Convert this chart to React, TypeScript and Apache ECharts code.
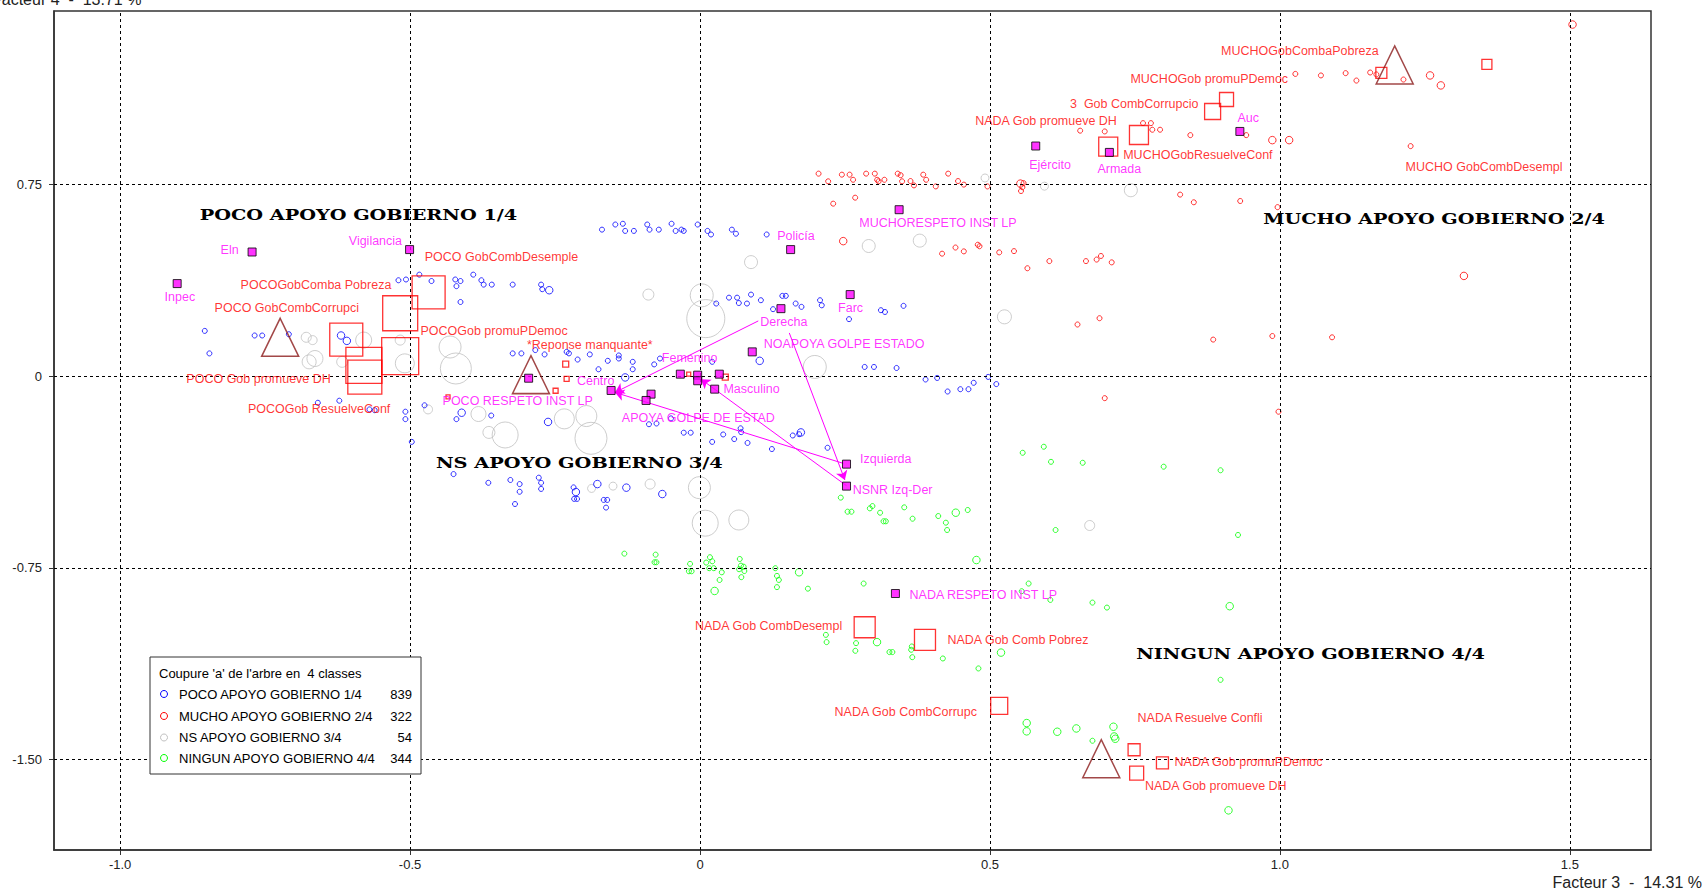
import React, { useEffect, useRef } from "react";
import * as echarts from "echarts";

// ---------- DATA ----------
// Individuals of each class: [Facteur 3, Facteur 4, poids]
const pocoPoints = [
  [-0.169,0.573,1],[-0.146,0.593,1],[-0.133,0.596,1],[-0.129,0.568,1],[-0.114,0.568,1],[-0.091,0.593,1],[-0.087,0.573,1],[-0.071,0.573,1],[-0.049,0.596,1],[-0.042,0.568,1],[-0.032,0.573,1],[-0.028,0.568,1],[-0.004,0.593,1],[0.013,0.568,1],[0.019,0.554,1],[0.055,0.573,1],[0.062,0.557,1],[0.115,0.554,1],
  [-0.520,0.375,1],[-0.507,0.378,1],[-0.484,0.397,1],[-0.463,0.372,1],[-0.422,0.378,1],[-0.413,0.372,1],[-0.420,0.352,1],[-0.391,0.397,1],[-0.377,0.375,1],[-0.373,0.358,1],[-0.359,0.358,1],[-0.323,0.358,1],[-0.274,0.358,1],[-0.272,0.340,1],[-0.260,0.336,2],[-0.413,0.290,1],
  [0.028,0.284,1],[0.050,0.307,1],[0.064,0.307,1],[0.067,0.286,1],[0.081,0.284,1],[0.088,0.319,1],[0.105,0.297,1],[0.126,0.262,1],[0.142,0.314,1],[0.148,0.314,1],[0.165,0.284,1],[0.175,0.271,1],[0.207,0.297,1],[0.210,0.277,1],[0.257,0.223,1],[0.312,0.258,1],[0.319,0.251,1],[0.351,0.275,1],
  [-0.854,0.177,1],[-0.846,0.089,1],[-0.768,0.159,1],[-0.755,0.159,1],[-0.709,0.164,1],[-0.619,0.159,2],[-0.609,0.138,2],
  [-0.323,0.089,1],[-0.308,0.089,1],[-0.284,0.102,1],[-0.268,0.085,1],[-0.230,0.095,1],[-0.226,0.089,1],[-0.211,0.065,1],[-0.190,0.085,1],[-0.175,0.027,1],[-0.159,0.060,1],[-0.140,0.081,1],[-0.140,0.069,1],[-0.129,-0.005,2],[-0.116,0.056,1],[-0.116,0.027,1],[-0.079,0.046,1],[-0.069,0.069,1],[0.021,0.056,1],[0.103,0.060,2],[0.284,0.036,1],[0.300,0.036,1],[0.339,0.032,1],
  [0.389,-0.013,1],[0.409,-0.007,1],[0.427,-0.060,1],[0.449,-0.051,1],[0.463,-0.051,1],[0.472,-0.026,1],[0.497,-0.003,1],[0.511,-0.031,1],
  [-0.659,-0.104,1],[-0.622,-0.096,1],[-0.570,-0.130,1],[-0.561,-0.133,1],[-0.508,-0.139,1],[-0.508,-0.168,1],[-0.497,-0.257,1],[-0.475,-0.114,1],[-0.411,-0.143,2],[-0.420,-0.168,1],[-0.360,-0.154,1],[-0.262,-0.179,2],[-0.088,-0.188,1],[-0.075,-0.185,1],[-0.050,-0.165,1],[-0.028,-0.221,1],[-0.016,-0.221,1],[0.021,-0.257,1],[0.040,-0.228,1],[0.059,-0.246,1],[0.070,-0.204,1],[0.071,-0.219,1],[0.082,-0.261,1],[0.124,-0.285,1],[0.160,-0.232,1],[0.171,-0.227,1],[0.174,-0.220,2],[0.220,-0.280,1],
  [-0.425,-0.383,1],[-0.365,-0.417,1],[-0.327,-0.406,1],[-0.311,-0.422,1],[-0.311,-0.452,1],[-0.319,-0.500,1],[-0.278,-0.397,1],[-0.274,-0.417,1],[-0.274,-0.441,1],[-0.218,-0.435,1],[-0.214,-0.453,2],[-0.217,-0.480,1],[-0.212,-0.480,1],[-0.177,-0.422,2],[-0.166,-0.484,1],[-0.160,-0.484,1],[-0.162,-0.514,1],[-0.127,-0.436,2],[-0.065,-0.461,2],
];

const muchoPoints = [
  [0.2045,0.792,1],[0.221,0.762,1],[0.2447,0.788,1],[0.258,0.788,1],[0.264,0.768,1],[0.2865,0.792,1],[0.3015,0.792,1],[0.3055,0.768,1],[0.308,0.762,1],[0.318,0.768,1],[0.341,0.792,1],[0.346,0.786,1],[0.3485,0.762,1],[0.363,0.763,1],[0.369,0.746,1],[0.385,0.788,1],[0.390,0.768,1],[0.4066,0.742,1],[0.428,0.792,1],[0.445,0.763,1],[0.455,0.749,1],[0.4957,0.742,1],[0.5525,0.753,2],[0.558,0.755,1],[0.556,0.739,1],[0.5536,0.724,1],
  [0.2297,0.6746,1],[0.2676,0.698,1],[0.828,0.710,1],[0.8516,0.680,1],[0.9316,0.685,1],[0.996,0.661,1],
  [0.247,0.528,2],[0.4175,0.479,1],[0.4406,0.503,1],[0.455,0.488,1],[0.479,0.514,1],[0.482,0.508,1],[0.516,0.484,1],[0.5415,0.489,1],[0.5646,0.422,1],[0.6025,0.450,1],[0.6656,0.450,1],[0.684,0.456,1],[0.6914,0.470,1],[0.710,0.445,1],[1.3174,0.392,2],
  [0.651,0.202,1],[0.689,0.2266,1],[0.885,0.143,1],[0.987,0.157,1],[1.090,0.152,1],[0.698,-0.086,1],[0.9976,-0.139,1],
  [1.5047,1.375,2],[1.0267,1.182,1],[1.0708,1.176,1],[1.1134,1.185,1],[1.132,1.156,1],[1.1557,1.1875,1],[1.1664,1.180,1],[1.2131,1.160,1],[1.259,1.176,2],[1.2776,1.137,2],
  [0.6556,0.960,1],[0.698,0.957,1],[0.764,0.9895,1],[0.7776,0.9895,1],[0.780,0.9637,1],[0.7934,0.9637,1],[0.8456,0.9426,1],[0.942,0.9426,1],[0.987,0.923,2],[1.016,0.923,2],[1.2255,0.8996,1],
];

const nsPoints = [
  [-0.679,0.152,10],[-0.668,0.141,9],[-0.664,0.069,16],[-0.674,0.056,14],[-0.617,0.056,11],[-0.580,0.141,16],[-0.517,0.141,10],[-0.509,0.050,19],[-0.431,0.114,22],[-0.421,0.030,31],[-0.469,-0.130,9],[-0.382,-0.148,15],[-0.364,-0.220,12],[-0.336,-0.230,26],[-0.234,-0.167,20],[-0.196,-0.156,21],[-0.188,-0.243,32],[-0.187,-0.439,8],[-0.150,-0.430,8],[-0.086,-0.422,10],[-0.001,-0.436,22],[0.009,-0.575,26],[0.067,-0.5625,20],[-0.089,0.319,11],[0.003,0.316,23],[0.010,0.225,38],[0.088,0.446,13],[0.198,0.036,23],[0.291,0.509,13],[0.379,0.530,13],[0.525,0.232,14],[0.4915,0.775,8],[0.594,0.743,8],[0.743,0.727,13],[0.672,-0.584,10],
];

const ningunPoints = [
  [0.2428,-0.475,1],[0.2545,-0.530,1],[0.2612,-0.530,1],[0.2929,-0.517,1],[0.2974,-0.508,1],[0.3106,-0.534,1],[0.3165,-0.5676,1],[0.3205,-0.5676,1],[0.3522,-0.513,1],[0.3666,-0.5574,1],[0.4109,-0.547,1],[0.424,-0.573,1],[0.4261,-0.6016,1],[0.4411,-0.534,2],[0.4617,-0.5234,1],[0.4767,-0.719,2],
  [-0.1304,-0.694,1],[-0.0765,-0.698,1],[-0.0784,-0.7277,1],[-0.0751,-0.7277,1],[-0.0171,-0.734,1],[-0.0191,-0.763,1],[-0.0145,-0.763,1],[0.0107,-0.729,1],[0.0172,-0.708,1],[0.0212,-0.724,1],[0.0159,-0.751,1],[0.0238,-0.751,1],[0.0376,-0.767,1],[0.0338,-0.797,1],[0.0252,-0.840,2],[0.0686,-0.715,1],[0.0706,-0.741,1],[0.0674,-0.755,1],[0.0765,-0.762,1],[0.0713,-0.786,1],[0.0753,-0.745,1],[0.1299,-0.751,1],[0.1327,-0.781,1],[0.136,-0.797,1],[0.1327,-0.825,1],[0.1709,-0.767,2],[0.1861,-0.831,1],[0.2822,-0.811,1],
  [0.2171,-1.0117,1],[0.2183,-1.040,1],[0.2691,-1.044,1],[0.2679,-1.074,1],[0.3053,-1.040,2],[0.3653,-1.057,1],[0.3642,-1.070,1],[0.3661,-1.099,1],[0.3267,-1.079,1],[0.3318,-1.079,1],[0.4188,-1.104,1],[0.4802,-1.143,1],[0.5191,-1.081,2],[0.8977,-1.1875,1],
  [0.5667,-0.811,1],[0.5548,-0.841,1],[0.6042,-0.875,1],[0.6768,-0.8855,1],[0.7018,-0.905,1],[0.9135,-0.8996,2],
  [0.5634,-1.3566,2],[0.5634,-1.389,2],[0.6161,-1.3906,2],[0.649,-1.3777,2],[0.6768,-1.4258,1],[0.713,-1.371,2],[0.7143,-1.409,2],[0.7162,-1.418,2],[0.9114,-1.698,2],
  [0.5565,-0.2996,1],[0.5929,-0.276,1],[0.6053,-0.335,1],[0.660,-0.3387,1],[0.7996,-0.354,1],[0.8977,-0.368,1],[0.6132,-0.6016,1],[0.9278,-0.621,1],
];

// Active modalities (red squares): [x, y, poids]
const activeModalities = [
  [-0.468,0.328,33],[-0.517,0.246,35],[-0.610,0.143,33],[-0.517,0.078,37],[-0.5796,0.042,36],[-0.578,-0.004,34],
  [1.175,1.186,11],[1.357,1.219,10],[0.908,1.082,14],[0.884,1.035,16],[0.757,0.943,19],[0.704,0.898,19],
  [0.284,-0.982,21],[0.388,-1.031,21],[0.516,-1.289,17],[0.7486,-1.461,12],[0.7975,-1.512,12],[0.753,-1.552,14],
  [-0.2316,0.047,6],[-0.230,-0.0105,5],[-0.249,-0.057,5],[-0.4345,-0.081,4],[-0.0195,0.008,4],[0.0436,-0.004,6],
];

// Illustrative modalities (magenta squares)
const illustrative = [
  ["Inpec",-0.9016,0.362],["Eln",-0.7724,0.4855],["Vigilancia",-0.5008,0.495],["Policía",0.1563,0.495],
  ["MUCHORESPETO INST LP",0.3434,0.651],["Ejército",0.579,0.900],["Armada",0.706,0.875],["Auc",0.931,0.957],
  ["Farc",0.259,0.319],["Derecha",0.1396,0.264],["NOAPOYA GOLPE ESTADO",0.0901,0.095],["Femenino",-0.0339,0.0078],
  ["NSNR golpe",-0.004,0.004],["Sin respuesta",-0.004,-0.018],["Otro",0.0333,0.0078],["Masculino",0.0253,-0.0508],
  ["NS golpe",-0.0844,-0.0703],["APOYA GOLPE DE ESTAD",-0.093,-0.095],["Centro",-0.1533,-0.056],
  ["Izquierda",0.2527,-0.344],["NSNR Izq-Der",0.2527,-0.430],["NADA RESPETO INST LP",0.337,-0.850],["POCO RESPETO INST LP",-0.2955,-0.008],
];

// Class centroids (triangles)
const classCentroids = [
  ["POCO APOYO GOBIERNO 1/4",-0.724,0.152],["MUCHO APOYO GOBIERNO 2/4",1.198,1.217],
  ["NS APOYO GOBIERNO 3/4",-0.2915,0.006],["NINGUN APOYO GOBIERNO 4/4",0.692,-1.496],
];

// Trajectories (arrows)
const trajectories = [
  [[0.1005,0.216],[-0.1465,-0.0637]],
  [[0.247,-0.341],[-0.1465,-0.0637]],
  [[0.154,0.169],[0.2498,-0.406]],
  [[0.2527,-0.4285],[0.0017,-0.0117]],
];

// Labels: [text, x (left edge), y]
const magentaLabels = [
  ["Inpec",-0.9224,0.3074],["Eln",-0.8258,0.492],["Vigilancia",-0.6048,0.527],["Policía",0.1339,0.5457],
  ["MUCHORESPETO INST LP",0.2757,0.5977],["Ejército",0.5686,0.824],["Armada",0.6862,0.8086],["Auc",0.9278,1.009],
  ["Farc",0.239,0.2645],["Derecha",0.1046,0.2098],["NOAPOYA GOLPE ESTADO",0.1108,0.1238],["Femenino",-0.065,0.069],
  ["Centro",-0.2114,-0.0195],["Masculino",0.0413,-0.0508],["APOYA GOLPE DE ESTAD",-0.1339,-0.1652],
  ["Izquierda",0.2769,-0.3254],["NSNR Izq-Der",0.2641,-0.448],["NADA RESPETO INST LP",0.3622,-0.859],["POCO RESPETO INST LP",-0.4431,-0.1004],
];
const redLabels = [
  ["POCO GobCombDesemple",-0.4738,0.4637],["POCOGobComba Pobreza",-0.7914,0.3555],["POCO GobCombCorrupci",-0.8362,0.2645],
  ["POCOGob promuPDemoc",-0.4812,0.173],["POCO Gob promueve DH",-0.8849,-0.0145],["POCOGob ResuelveConf",-0.7788,-0.130],
  ["*Reponse manquante*",-0.2976,0.1184],["MUCHOGobCombaPobreza",0.8994,1.2707],["MUCHOGob promuPDemoc",0.7431,1.159],
  ["3  Gob CombCorrupcio",0.6389,1.0613],["NADA Gob promueve DH",0.4754,0.9973],["MUCHOGobResuelveConf",0.7307,0.8633],
  ["MUCHO GobCombDesempl",1.2176,0.8152],["NADA Gob CombDesempl",-0.0078,-0.979],["NADA Gob Comb Pobrez",0.4275,-1.035],
  ["NADA Gob CombCorrupc",0.2329,-1.315],["NADA Resuelve Confli",0.7555,-1.340],["NADA Gob promuPDemoc",0.8193,-1.5105],
  ["NADA Gob promueve DH",0.7681,-1.604],
];

// Class name labels: [text, center x, y]
const classLabels = [
  ["POCO APOYO GOBIERNO 1/4",-0.589,0.629],["MUCHO APOYO GOBIERNO 2/4",1.266,0.616],
  ["NS APOYO GOBIERNO 3/4",-0.208,-0.340],["NINGUN APOYO GOBIERNO 4/4",1.053,-1.087],
];

const legendTitle = "Coupure 'a' de l'arbre en  4 classes";
const legendClasses = ["POCO APOYO GOBIERNO 1/4","MUCHO APOYO GOBIERNO 2/4","NS APOYO GOBIERNO 3/4","NINGUN APOYO GOBIERNO 4/4"];
const legendCounts = [839, 322, 54, 344];

const xTicks = [-1, -0.5, 0, 0.5, 1, 1.5];
const xTickLabels = ["-1.0","-0.5","0","0.5","1.0","1.5"];
const yTicks = [0.75, 0, -0.75, -1.5];
const yTickLabels = ["0.75","0","-0.75","-1.50"];
const xTitle = "Facteur 3  -  14.31 %";
const yTitle = "Facteur 4  -  13.71 %";

// ---------- STYLE ----------
const CLASS_COLORS = ["#0000ff", "#ff0000", "#c0c0c0", "#00ff00"];
const SANS = '"Liberation Sans", Arial, sans-serif';
const SERIF_FONT = 'bold 14px "DejaVu Serif"';

const hollow = (c: string, w = 1) => ({ color: "rgba(0,0,0,0)", borderColor: c, borderWidth: w });
const tickFmt = (ticks: number[], labels: string[]) => (v: number) => {
  const i = ticks.findIndex((t) => Math.abs(t - v) < 1e-6);
  return i >= 0 ? labels[i] : "";
};

export default function App() {
  const ref = useRef<HTMLDivElement>(null);
  useEffect(() => {
    document.body.style.margin = "0";
    const chart = echarts.init(ref.current!, null, { renderer: "svg" });
    const pointSeries = (data: number[][], color: string, z: number) => ({
      type: "scatter", data, symbol: "circle",
      symbolSize: (v: number[]) => (v[2] === 2 ? 7.5 : 5),
      itemStyle: hollow(color, 1), silent: true, z,
    });
    const labelSeries = (labels: any[], color: string) => ({
      type: "scatter", silent: true, z: 20, symbolSize: 1,
      itemStyle: { color: "rgba(0,0,0,0)" },
      data: labels.map(([t, x, y]) => ({ name: t, value: [x, y] })),
      label: {
        show: true, formatter: "{b}", position: [0, 0], align: "left", verticalAlign: "middle",
        color, fontSize: 12.5, fontFamily: SANS,
      },
    });
    const option: any = {
      animation: false,
      backgroundColor: "#fff",
      grid: { left: 54, top: 11, width: 1597, height: 839, show: true, borderColor: "#333", borderWidth: 1.5, backgroundColor: "#fff" },
      xAxis: {
        type: "value", min: -1.114, max: 1.64,
        axisLine: { show: true, onZero: false, lineStyle: { color: "#333", width: 1.5 } },
        axisTick: { show: true, customValues: xTicks, length: 5, lineStyle: { color: "#333" } },
        axisLabel: { customValues: xTicks, formatter: tickFmt(xTicks, xTickLabels), color: "#222", fontSize: 13, fontFamily: SANS, margin: 8 },
        splitLine: { show: false },
      },
      yAxis: {
        type: "value", min: -1.853, max: 1.428,
        axisLine: { show: true, onZero: false, lineStyle: { color: "#333", width: 1.5 } },
        axisTick: { show: true, customValues: yTicks, length: 5, lineStyle: { color: "#333" } },
        axisLabel: { customValues: yTicks, formatter: tickFmt(yTicks, yTickLabels), color: "#222", fontSize: 13, fontFamily: SANS, margin: 12 },
        splitLine: { show: false },
      },
      series: [
        {
          type: "scatter", name: "NS APOYO GOBIERNO 3/4", data: nsPoints, symbol: "circle",
          symbolSize: (v: number[]) => v[2], itemStyle: hollow(CLASS_COLORS[2], 1), silent: true, z: 3,
          markLine: {
            silent: true, symbol: ["none", "none"], label: { show: false }, animation: false,
            lineStyle: { color: "#000", type: [3, 3], width: 1 },
            emphasis: { disabled: true },
            data: [...xTicks.map((v) => ({ xAxis: v })), ...yTicks.map((v) => ({ yAxis: v }))],
          },
        },
        pointSeries(pocoPoints, CLASS_COLORS[0], 4),
        pointSeries(muchoPoints, CLASS_COLORS[1], 4),
        pointSeries(ningunPoints, CLASS_COLORS[3], 4),
        {
          type: "scatter", data: activeModalities, symbol: "rect",
          symbolSize: (v: number[]) => v[2], itemStyle: hollow("#ff0000", 1.3), silent: true, z: 5,
        },
        {
          type: "scatter", data: classCentroids.map((c) => ({ name: c[0], value: [c[1], c[2]] })),
          symbol: "triangle", symbolSize: [37, 38], itemStyle: hollow("#8b1a1a", 1.5), silent: true, z: 5,
        },
        {
          type: "lines", coordinateSystem: "cartesian2d", silent: true, z: 7,
          data: trajectories.map((c) => ({ coords: c })),
          symbol: ["none", "arrow"], symbolSize: 9,
          lineStyle: { color: "#ff00ff", width: 1, opacity: 1 },
        },
        {
          type: "scatter", data: illustrative.map((d) => ({ name: d[0], value: [d[1], d[2]] })),
          symbol: "rect", symbolSize: 8, itemStyle: { color: "#ff00ff", borderColor: "#000", borderWidth: 1 },
          silent: true, z: 8,
        },
        labelSeries(magentaLabels, "#ff00ff"),
        labelSeries(redLabels, "#ff0000"),
      ],
    };
    chart.setOption(option);

    // Graphics: class names, legend box, axis titles
    const ctx = document.createElement("canvas").getContext("2d")!;
    ctx.font = SERIF_FONT;
    const classWidths = [318, 342, 287, 349];
    const graphics: any[] = classLabels.map(([t, x, y], i) => {
      const p = chart.convertToPixel({ gridIndex: 0 } as any, [x as number, y as number]) as number[];
      const w = ctx.measureText(t as string).width || 1;
      return {
        type: "text", x: p[0], y: p[1], scaleX: classWidths[i] / w, z: 100,
        style: { text: t, font: SERIF_FONT, fill: "#000", align: "center", verticalAlign: "middle", textAlign: "center", textVerticalAlign: "middle" },
      };
    });
    const lx = 150, ly = 657;
    graphics.push({ type: "rect", z: 100, shape: { x: lx, y: ly, width: 271, height: 117 }, style: { fill: "#fff", stroke: "#333", lineWidth: 1 } });
    graphics.push({ type: "text", z: 101, x: lx + 9, y: ly + 16, style: { text: legendTitle, font: `13px ${SANS}`, fill: "#000", align: "left", verticalAlign: "middle", textAlign: "left", textVerticalAlign: "middle" } });
    const rowY = [37, 59, 80.5, 101];
    legendClasses.forEach((name, i) => {
      const y = ly + rowY[i];
      graphics.push({ type: "circle", z: 101, shape: { cx: lx + 14, cy: y, r: 3.5 }, style: { fill: "none", stroke: CLASS_COLORS[i], lineWidth: 1 } });
      graphics.push({ type: "text", z: 101, x: lx + 29, y, style: { text: name, font: `13px ${SANS}`, fill: "#000", align: "left", verticalAlign: "middle", textAlign: "left", textVerticalAlign: "middle" } });
      graphics.push({ type: "text", z: 101, x: lx + 262, y, style: { text: String(legendCounts[i]), font: `13px ${SANS}`, fill: "#000", align: "right", verticalAlign: "middle", textAlign: "right", textVerticalAlign: "middle" } });
    });
    graphics.push({ type: "text", z: 101, x: 1702, y: 882, style: { text: xTitle, font: `16px ${SANS}`, fill: "#222", align: "right", verticalAlign: "middle", textAlign: "right", textVerticalAlign: "middle" } });
    graphics.push({ type: "text", z: 101, x: -8, y: -9, style: { text: yTitle, font: `16px ${SANS}`, fill: "#222", align: "left", verticalAlign: "top", textAlign: "left", textVerticalAlign: "top" } });
    chart.setOption({ graphic: graphics });

    return () => chart.dispose();
  }, []);
  return <div ref={ref} style={{ position: "absolute", left: 0, top: 0, width: 1704, height: 892, background: "#fff" }} />;
}
